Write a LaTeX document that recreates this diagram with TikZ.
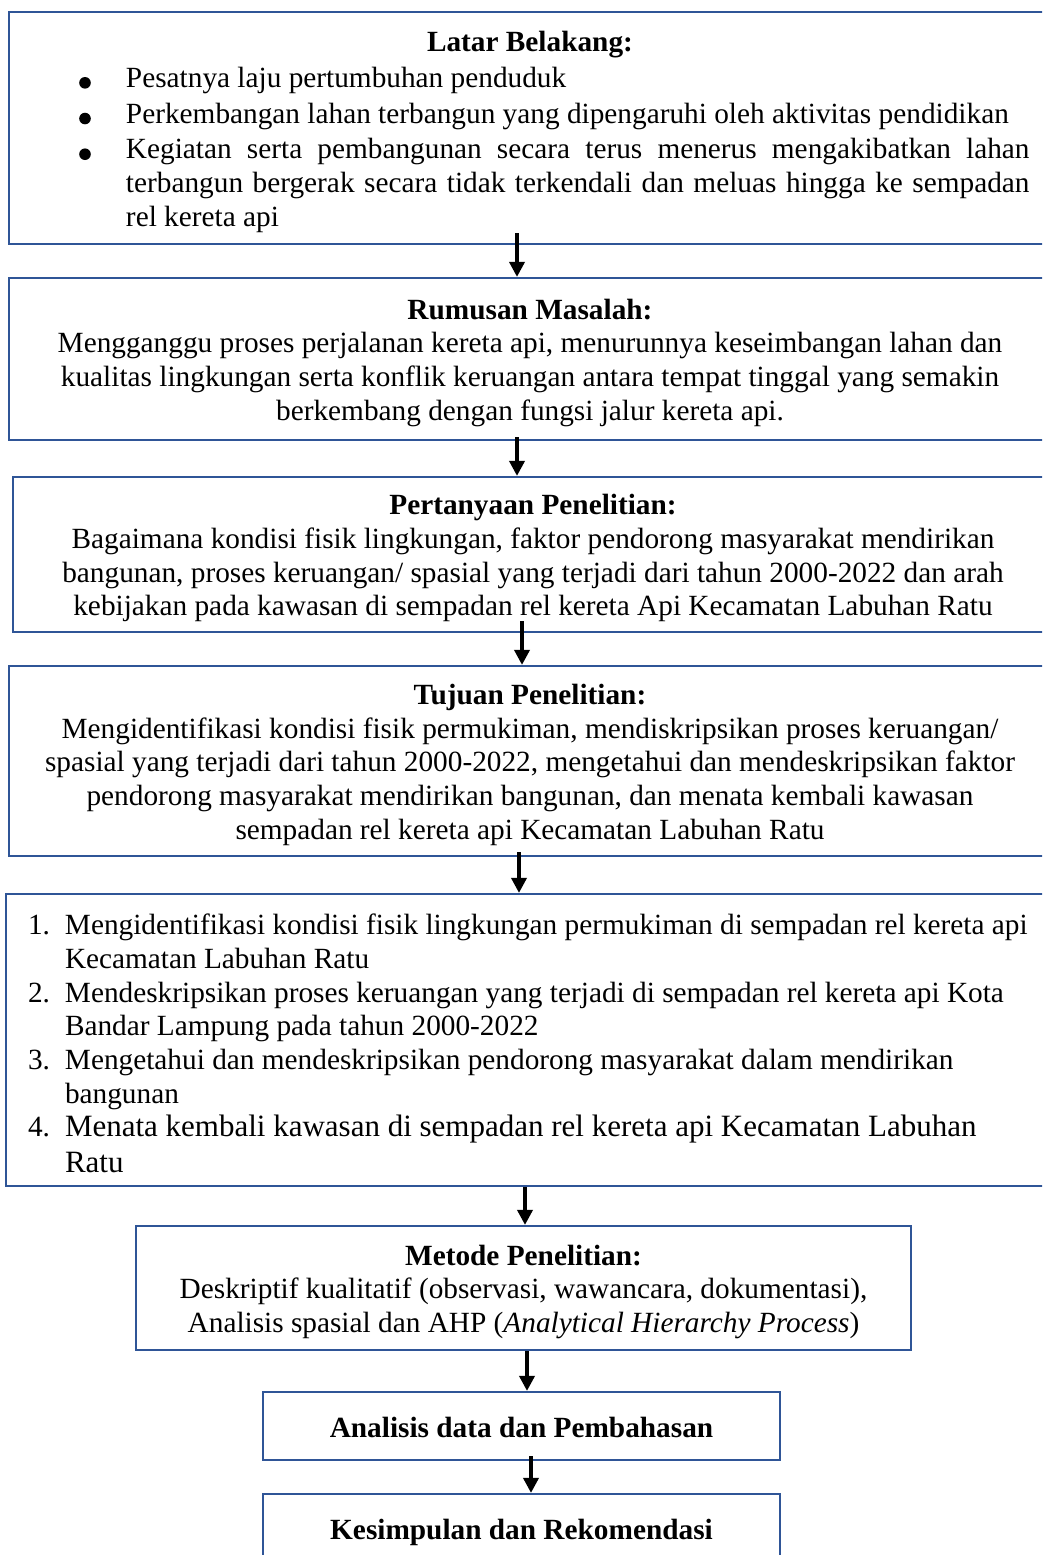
\documentclass[tikz,border=0pt]{standalone}
\usepackage{fontspec}
\setmainfont{Liberation Serif}
\usetikzlibrary{arrows.meta}

\definecolor{boxblue}{HTML}{2F5597}

% round list bullet
\newcommand{\dotmark}{\tikz[baseline={(0pt,-4.5pt)}]\fill (0pt,0pt) circle[radius=5.8pt];}
% bullet entry with a hanging indent
\newcommand{\bulletentry}[1]{\par\noindent\hangindent=95.5pt\hangafter=1
  \hbox to 95.5pt{\hskip 48.7pt\dotmark\hfil}#1\par}
% one line of the numbered list
\newcommand{\listline}[2]{\hbox to 1000pt{\hbox to 37pt{#1\hfil}#2\hfil}}
% extra room above the first line of a box
\newcommand{\topstrut}{\rule{0pt}{28pt}}

\tikzset{
  flowbox/.style={draw=boxblue, line width=2.2pt, rectangle, inner sep=0pt,
    font=\fontsize{29.3pt}{33.7pt}\selectfont},
  smallbox/.style={flowbox, minimum width=517pt, minimum height=68pt,
    text height=23.4pt, text depth=0pt,
    font=\fontsize{29.3pt}{33.7pt}\selectfont\bfseries},
  arr/.style={line width=3.6pt, -{Triangle[width=15pt,length=15pt]}},
}

\begin{document}
\begin{tikzpicture}[x=1pt,y=-1pt]
\useasboundingbox (0,0) rectangle (1042,1555);
\clip (0,0) rectangle (1042,1555);

% Latar Belakang
\node[flowbox, minimum width=1042pt, minimum height=232pt, text width=999pt, align=justify]
  (lb) at (530,128) {%
  {\centering\bfseries\topstrut Latar Belakang:\par}\vspace{2pt}
  \bulletentry{Pesatnya laju pertumbuhan penduduk}\vspace{2pt}
  \bulletentry{Perkembangan lahan terbangun yang dipengaruhi oleh aktivitas pendidikan}\vspace{2pt}
  \bulletentry{Kegiatan serta pembangunan secara terus menerus mengakibatkan lahan\linebreak
    terbangun bergerak secara tidak terkendali dan meluas hingga ke sempadan\linebreak
    rel kereta api}};

% Rumusan Masalah
\node[flowbox, minimum width=1042pt, minimum height=162pt, align=center]
  (rm) at (530,359) {%
  \topstrut\textbf{Rumusan Masalah:}\\
  Mengganggu proses perjalanan kereta api, menurunnya keseimbangan lahan dan\\
  kualitas lingkungan serta konflik keruangan antara tempat tinggal yang semakin\\
  berkembang dengan fungsi jalur kereta api.};

% Pertanyaan Penelitian
\node[flowbox, minimum width=1040pt, minimum height=155pt, align=center]
  (pp) at (533,554.5) {%
  \topstrut\textbf{Pertanyaan Penelitian:}\\
  Bagaimana kondisi fisik lingkungan, faktor pendorong masyarakat mendirikan\\
  bangunan, proses keruangan/ spasial yang terjadi dari tahun 2000-2022 dan arah\\
  kebijakan pada kawasan di sempadan rel kereta Api Kecamatan Labuhan Ratu};

% Tujuan Penelitian
\node[flowbox, minimum width=1042pt, minimum height=190pt, align=center]
  (tp) at (530,761) {%
  \topstrut\textbf{Tujuan Penelitian:}\\
  Mengidentifikasi kondisi fisik permukiman, mendiskripsikan proses keruangan/\\
  spasial yang terjadi dari tahun 2000-2022, mengetahui dan mendeskripsikan faktor\\
  pendorong masyarakat mendirikan bangunan, dan menata kembali kawasan\\
  sempadan rel kereta api Kecamatan Labuhan Ratu};

% Numbered list
\node[flowbox, minimum width=1044pt, minimum height=292pt]
  (ss) at (528,1040) {\vbox{%
  \listline{1.}{\topstrut Mengidentifikasi kondisi fisik lingkungan permukiman di sempadan rel kereta api}
  \listline{}{Kecamatan Labuhan Ratu}
  \listline{2.}{Mendeskripsikan proses keruangan yang terjadi di sempadan rel kereta api Kota}
  \listline{}{Bandar Lampung pada tahun 2000-2022}
  \listline{3.}{Mengetahui dan mendeskripsikan pendorong masyarakat dalam mendirikan}
  \listline{}{bangunan}
  \listline{4.}{{\fontsize{31pt}{36pt}\selectfont Menata kembali kawasan di sempadan rel kereta api Kecamatan Labuhan}}
  {\fontsize{31pt}{36pt}\selectfont\listline{}{Ratu}}}};

% Metode Penelitian
\node[flowbox, minimum width=775pt, minimum height=124pt, align=center]
  (mp) at (523.5,1288) {%
  \topstrut\textbf{Metode Penelitian:}\\
  Deskriptif kualitatif (observasi, wawancara, dokumentasi),\\
  Analisis spasial dan AHP (\textit{Analytical Hierarchy Process})};

% Analisis data
\node[smallbox] (ad) at (521.5,1426) {Analisis data dan Pembahasan};

% Kesimpulan
\node[smallbox] (ks) at (521.5,1528) {Kesimpulan dan Rekomendasi};

% connectors
\draw[arr] ([xshift=-13pt,yshift=12pt]lb.south) -- ([xshift=-13pt]rm.north);
\draw[arr] ([xshift=-13pt,yshift=4pt]rm.south) -- ([xshift=-16pt]pp.north);
\draw[arr] ([xshift=-11pt,yshift=12pt]pp.south) -- ([xshift=-8pt]tp.north);
\draw[arr] ([xshift=-11pt,yshift=5pt]tp.south) -- ([xshift=-9pt]ss.north);
\draw[arr] ([xshift=-3pt]ss.south) -- ([xshift=1.5pt]mp.north);
\draw[arr] ([xshift=3.5pt]mp.south) -- ([xshift=5.5pt]ad.north);
\draw[arr] ([xshift=9.5pt,yshift=5pt]ad.south) -- ([xshift=9.5pt]ks.north);
\end{tikzpicture}
\end{document}
